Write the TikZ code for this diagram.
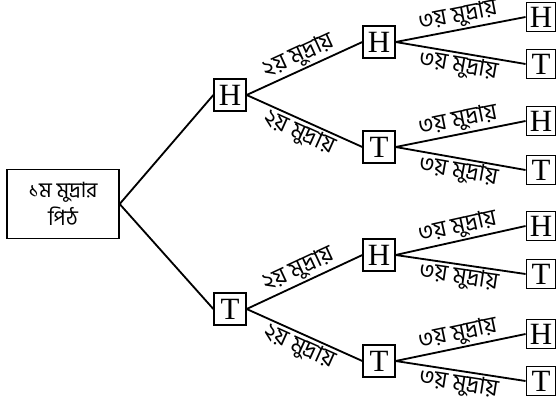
\documentclass[tikz,border=0pt]{standalone}
\usepackage{fontspec}
\setmainfont{Liberation Serif}
\newfontfamily\bnfont[Script=Bengali]{Hind Siliguri}
\usepackage{tikz}

\begin{document}
\begin{tikzpicture}[x=0.025cm, y=-0.025cm,
  coin/.style={draw, line width=0.9pt, minimum width=0.8cm, minimum height=0.8cm, inner sep=0pt, font=\fontsize{22}{24}\selectfont},
  leaf/.style={coin, minimum width=0.74cm, minimum height=0.74cm},
  rootbox/.style={draw, line width=0.9pt, minimum width=2.8cm, minimum height=1.72cm, align=center, font=\bnfont\fontsize{15}{20}\selectfont},
  lbl/.style={sloped, inner sep=1pt, font=\bnfont\fontsize{16.5}{18}\selectfont},
  branch/.style={line width=1.3pt}]
\useasboundingbox (0,0) rectangle (557,403);
% first coin
\node[rootbox] (root) at (63,204) {১ম মুদ্রার\\পিঠ};
% second coin
\node[coin] (h) at (230,95) {H};
\node[coin] (t) at (230,309) {T};
\node[coin] (hh) at (379,42) {H};
\node[coin] (ht) at (379,147) {T};
\node[coin] (th) at (379,255) {H};
\node[coin] (tt) at (379,361) {T};
% third coin
\node[leaf] (hhh) at (541,17) {H};
\node[leaf] (hht) at (541,64) {T};
\node[leaf] (hth) at (541,121) {H};
\node[leaf] (htt) at (541,170) {T};
\node[leaf] (thh) at (541,226) {H};
\node[leaf] (tht) at (541,274) {T};
\node[leaf] (tth) at (541,334) {H};
\node[leaf] (ttt) at (541,381) {T};
\draw [branch] (root.east) edge (h.west);
\draw [branch] (root.east) edge (t.west);
\draw [branch] (h.east) edge node[lbl, above] {২য় মুদ্রায়} (hh.west);
\draw [branch] (h.east) edge node[lbl, below] {২য় মুদ্রায়} (ht.west);
\draw [branch] (t.east) edge node[lbl, above] {২য় মুদ্রায়} (th.west);
\draw [branch] (t.east) edge node[lbl, below] {২য় মুদ্রায়} (tt.west);
\draw [branch] (hh.east) edge node[lbl, above] {৩য় মুদ্রায়} (hhh.west);
\draw [branch] (hh.east) edge node[lbl, below] {৩য় মুদ্রায়} (hht.west);
\draw [branch] (ht.east) edge node[lbl, above] {৩য় মুদ্রায়} (hth.west);
\draw [branch] (ht.east) edge node[lbl, below] {৩য় মুদ্রায়} (htt.west);
\draw [branch] (th.east) edge node[lbl, above] {৩য় মুদ্রায়} (thh.west);
\draw [branch] (th.east) edge node[lbl, below] {৩য় মুদ্রায়} (tht.west);
\draw [branch] (tt.east) edge node[lbl, above] {৩য় মুদ্রায়} (tth.west);
\draw [branch] (tt.east) edge node[lbl, below] {৩য় মুদ্রায়} (ttt.west);
\end{tikzpicture}
\end{document}
